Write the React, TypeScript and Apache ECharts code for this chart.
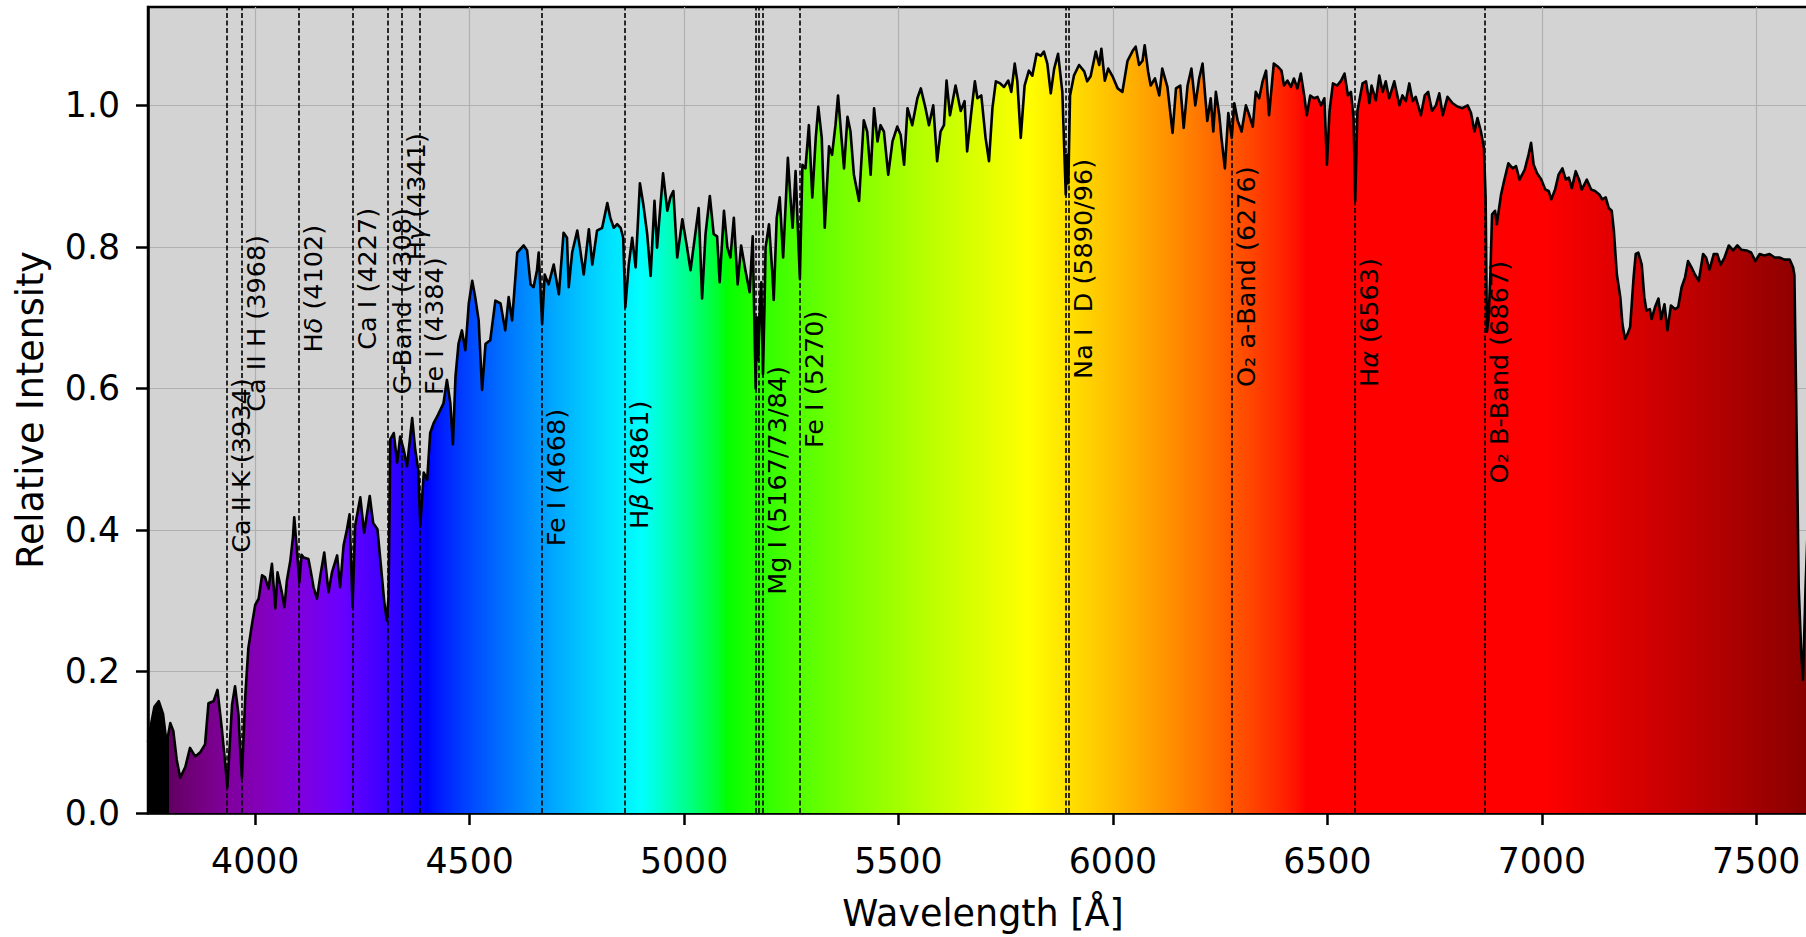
import React, { useEffect, useRef } from "react";
import * as echarts from "echarts";

const WAVELENGTH = [
  3750, 3757, 3765, 3775, 3785, 3792, 3797, 3802, 3809, 3817, 3825, 3837, 3848, 3855, 3860, 3872, 3883, 3891, 3903, 3912,
  3922, 3930, 3935, 3940, 3946, 3953, 3961, 3965, 3969, 3973, 3977, 3984, 3992, 4000, 4008, 4016, 4023, 4031, 4039, 4047,
  4052, 4062, 4068, 4074, 4082, 4088, 4091, 4097, 4103, 4108, 4113, 4124, 4130, 4136, 4144, 4152, 4161, 4171, 4179, 4191,
  4198, 4206, 4214, 4220, 4227, 4233, 4245, 4254, 4260, 4267, 4275, 4285, 4293, 4301, 4307, 4311, 4315, 4323, 4331, 4338,
  4346, 4354, 4366, 4373, 4380, 4385, 4393, 4401, 4408, 4416, 4424, 4432, 4439, 4447, 4455, 4461, 4467, 4474, 4482, 4490,
  4498, 4506, 4513, 4521, 4529, 4537, 4548, 4560, 4572, 4583, 4591, 4599, 4611, 4626, 4634, 4642, 4649, 4657, 4661, 4669,
  4675, 4684, 4696, 4708, 4719, 4727, 4731, 4739, 4751, 4758, 4766, 4778, 4786, 4797, 4809, 4821, 4828, 4836, 4844, 4852,
  4858, 4863, 4871, 4879, 4887, 4897, 4905, 4914, 4922, 4931, 4937, 4951, 4961, 4968, 4975, 4984, 4996, 5007, 5015, 5023,
  5034, 5042, 5050, 5060, 5069, 5077, 5083, 5093, 5101, 5108, 5116, 5125, 5133, 5143, 5153, 5160, 5167, 5170, 5173, 5177,
  5180, 5184, 5188, 5190, 5198, 5206, 5209, 5216, 5223, 5231, 5242, 5248, 5253, 5260, 5264, 5270, 5276, 5283, 5291, 5299,
  5307, 5313, 5321, 5328, 5338, 5345, 5353, 5359, 5367, 5373, 5381, 5388, 5396, 5408, 5419, 5427, 5435, 5443, 5451, 5458,
  5466, 5476, 5486, 5497, 5505, 5513, 5521, 5532, 5544, 5552, 5563, 5571, 5581, 5590, 5598, 5606, 5612, 5620, 5633, 5645,
  5654, 5660, 5670, 5678, 5684, 5693, 5703, 5711, 5719, 5727, 5737, 5746, 5756, 5763, 5771, 5777, 5785, 5794, 5804, 5812,
  5822, 5832, 5839, 5847, 5855, 5863, 5872, 5882, 5890, 5893, 5896, 5900, 5909, 5921, 5933, 5940, 5948, 5960, 5968, 5973,
  5981, 5989, 5999, 6011, 6022, 6034, 6046, 6053, 6061, 6069, 6074, 6082, 6088, 6098, 6108, 6115, 6127, 6139, 6147, 6157,
  6165, 6174, 6183, 6192, 6201, 6209, 6215, 6220, 6228, 6234, 6240, 6248, 6253, 6261, 6269, 6277, 6283, 6291, 6300, 6310,
  6318, 6326, 6333, 6341, 6349, 6357, 6364, 6375, 6384, 6393, 6399, 6407, 6415, 6422, 6430, 6438, 6446, 6452, 6460, 6469,
  6477, 6485, 6493, 6499, 6505, 6513, 6523, 6532, 6540, 6548, 6555, 6561, 6565, 6570, 6582, 6590, 6598, 6603, 6613, 6621,
  6629, 6636, 6644, 6656, 6668, 6675, 6683, 6691, 6699, 6706, 6718, 6727, 6735, 6744, 6753, 6761, 6769, 6780, 6792, 6804,
  6815, 6827, 6835, 6843, 6850, 6858, 6865, 6869, 6872, 6876, 6880, 6884, 6891, 6895, 6905, 6912, 6922, 6932, 6940, 6948,
  6960, 6969, 6975, 6981, 6989, 6999, 7008, 7016, 7022, 7031, 7039, 7048, 7056, 7063, 7070, 7079, 7087, 7093, 7105, 7115,
  7124, 7134, 7141, 7149, 7156, 7163, 7168, 7175, 7183, 7188, 7194, 7200, 7206, 7214, 7219, 7225, 7233, 7239, 7244, 7252,
  7256, 7264, 7272, 7278, 7286, 7293, 7301, 7311, 7318, 7326, 7334, 7341, 7349, 7357, 7366, 7376, 7383, 7391, 7401, 7409,
  7417, 7426, 7436, 7446, 7456, 7465, 7477, 7488, 7498, 7508, 7519, 7531, 7543, 7554, 7566, 7578, 7586, 7589, 7595, 7599,
  7605, 7609, 7615, 7619,
];

const INTENSITY = [
  0.100, 0.125, 0.150, 0.158, 0.140, 0.105, 0.110, 0.127, 0.116, 0.075, 0.050, 0.065, 0.092, 0.085, 0.080, 0.086, 0.097, 0.155, 0.158, 0.174,
  0.120, 0.070, 0.036, 0.090, 0.153, 0.179, 0.139, 0.090, 0.050, 0.110, 0.167, 0.233, 0.265, 0.294, 0.303, 0.336, 0.333, 0.317, 0.352, 0.289,
  0.340, 0.312, 0.291, 0.329, 0.357, 0.390, 0.418, 0.373, 0.326, 0.365, 0.361, 0.359, 0.340, 0.319, 0.303, 0.336, 0.368, 0.312, 0.340, 0.364,
  0.319, 0.378, 0.401, 0.422, 0.291, 0.406, 0.446, 0.396, 0.420, 0.448, 0.410, 0.401, 0.350, 0.298, 0.272, 0.308, 0.528, 0.537, 0.495, 0.532,
  0.514, 0.490, 0.558, 0.514, 0.486, 0.406, 0.481, 0.471, 0.537, 0.551, 0.560, 0.570, 0.579, 0.612, 0.579, 0.521, 0.617, 0.663, 0.682, 0.654,
  0.720, 0.752, 0.729, 0.696, 0.598, 0.663, 0.668, 0.724, 0.720, 0.682, 0.729, 0.696, 0.792, 0.802, 0.795, 0.747, 0.743, 0.767, 0.792, 0.691,
  0.761, 0.747, 0.775, 0.733, 0.820, 0.813, 0.743, 0.792, 0.823, 0.795, 0.761, 0.825, 0.775, 0.823, 0.827, 0.862, 0.841, 0.827, 0.832, 0.827,
  0.813, 0.715, 0.775, 0.813, 0.771, 0.890, 0.860, 0.818, 0.759, 0.865, 0.799, 0.904, 0.851, 0.870, 0.879, 0.785, 0.839, 0.799, 0.767, 0.804,
  0.855, 0.727, 0.818, 0.872, 0.818, 0.815, 0.750, 0.851, 0.799, 0.785, 0.841, 0.747, 0.802, 0.767, 0.736, 0.815, 0.600, 0.700, 0.640, 0.720,
  0.750, 0.620, 0.730, 0.799, 0.832, 0.761, 0.725, 0.841, 0.870, 0.785, 0.926, 0.870, 0.827, 0.907, 0.846, 0.755, 0.916, 0.911, 0.972, 0.870,
  0.954, 0.998, 0.954, 0.827, 0.942, 0.930, 0.972, 1.014, 0.954, 0.911, 0.984, 0.963, 0.902, 0.865, 0.979, 0.963, 0.902, 0.996, 0.949, 0.972,
  0.963, 0.902, 0.949, 0.970, 0.958, 0.916, 0.996, 0.972, 1.010, 1.024, 0.996, 0.972, 1.000, 0.921, 0.963, 0.972, 1.035, 0.986, 1.028, 0.992,
  1.006, 0.935, 0.992, 1.034, 1.010, 1.014, 0.954, 0.921, 0.996, 1.034, 1.031, 1.026, 1.035, 1.019, 1.059, 1.034, 0.954, 1.028, 1.049, 1.042,
  1.073, 1.070, 1.076, 1.059, 1.017, 1.052, 1.073, 1.019, 0.874, 0.930, 0.890, 1.014, 1.042, 1.057, 1.048, 1.034, 1.041, 1.076, 1.057, 1.080,
  1.035, 1.052, 1.041, 1.024, 1.019, 1.063, 1.077, 1.083, 1.057, 1.063, 1.085, 1.048, 1.028, 1.038, 1.014, 1.052, 1.026, 0.961, 1.024, 1.028,
  0.968, 1.028, 1.052, 1.000, 1.038, 1.059, 1.014, 0.978, 1.010, 0.963, 1.019, 0.986, 0.954, 0.911, 0.989, 0.954, 1.003, 0.978, 0.963, 1.000,
  0.986, 0.970, 1.019, 1.010, 1.034, 1.049, 0.986, 1.059, 1.055, 1.049, 1.028, 1.035, 1.026, 1.038, 1.024, 1.045, 1.014, 0.986, 1.014, 1.010,
  1.012, 1.000, 1.010, 0.916, 0.992, 1.031, 1.028, 1.035, 1.045, 1.014, 1.019, 0.982, 0.865, 0.992, 1.031, 1.034, 1.003, 1.028, 1.007, 1.042,
  1.019, 1.034, 1.010, 1.034, 1.000, 1.014, 1.006, 1.031, 1.006, 1.012, 0.986, 1.014, 1.019, 0.992, 1.000, 1.017, 0.986, 1.012, 1.003, 0.998,
  0.996, 1.000, 0.989, 0.963, 0.982, 0.963, 0.940, 0.870, 0.680, 0.700, 0.760, 0.846, 0.851, 0.832, 0.874, 0.893, 0.918, 0.911, 0.914, 0.895,
  0.909, 0.930, 0.947, 0.916, 0.904, 0.895, 0.881, 0.879, 0.867, 0.881, 0.902, 0.911, 0.895, 0.898, 0.883, 0.907, 0.895, 0.881, 0.895, 0.881,
  0.879, 0.874, 0.867, 0.870, 0.855, 0.851, 0.823, 0.761, 0.729, 0.691, 0.670, 0.677, 0.687, 0.757, 0.790, 0.792, 0.775, 0.729, 0.710, 0.712,
  0.698, 0.715, 0.727, 0.698, 0.719, 0.682, 0.717, 0.712, 0.715, 0.743, 0.757, 0.780, 0.771, 0.761, 0.752, 0.790, 0.785, 0.768, 0.790, 0.790,
  0.775, 0.785, 0.802, 0.795, 0.802, 0.796, 0.795, 0.792, 0.780, 0.790, 0.788, 0.790, 0.785, 0.785, 0.782, 0.782, 0.771, 0.760, 0.504, 0.319,
  0.225, 0.188, 0.319, 0.386,
];

// Dashed reference lines (Å)
const LINE_POSITIONS = [3934, 3968, 4102, 4227, 4308, 4341, 4384, 4668, 4861, 5167, 5173, 5184, 5270, 5890, 5896, 6276, 6563, 6867];

// Line labels: text, anchor wavelength (last line of the group), label centre height
const LABEL_TEXTS = [
  "Ca II K (3934)",
  "Ca II H (3968)",
  "H{g|δ} (4102)",
  "Ca I (4227)",
  "G-Band (4308)",
  "H{g|γ} (4341)",
  "Fe I (4384)",
  "Fe I (4668)",
  "H{g|β} (4861)",
  "Mg I (5167/73/84)",
  "Fe I (5270)",
  "Na I  D (5890/96)",
  "O₂ a-Band (6276)",
  "H{g|α} (6563)",
  "O₂ B-Band (6867)",
];
const LABEL_ANCHORS = [3934, 3968, 4102, 4227, 4308, 4341, 4384, 4668, 4861, 5184, 5270, 5896, 6276, 6563, 6867];
const LABEL_Y = [0.491, 0.692, 0.741, 0.755, 0.723, 0.871, 0.688, 0.474, 0.492, 0.470, 0.613, 0.769, 0.758, 0.693, 0.623];

const X_TICKS = [4000, 4500, 5000, 5500, 6000, 6500, 7000, 7500];
const Y_TICKS = [0, 0.2, 0.4, 0.6, 0.8, 1.0];

const X_MIN = 3750;
const X_MAX = 7644;
const Y_MAX = 1.139;

function wavelengthToRgb(angstrom: number): string {
  const nm = angstrom / 10;
  let r = 0, g = 0, b = 0;
  if (nm >= 380 && nm < 440) { r = -(nm - 440) / 60; b = 1; }
  else if (nm >= 440 && nm < 490) { g = (nm - 440) / 50; b = 1; }
  else if (nm >= 490 && nm < 510) { g = 1; b = -(nm - 510) / 20; }
  else if (nm >= 510 && nm < 580) { r = (nm - 510) / 70; g = 1; }
  else if (nm >= 580 && nm < 645) { r = 1; g = -(nm - 645) / 65; }
  else if (nm >= 645 && nm <= 780) { r = 1; }
  let f = 0;
  if (nm >= 380 && nm < 420) f = 0.3 + (0.7 * (nm - 380)) / 40;
  else if (nm >= 420 && nm < 700) f = 1;
  else if (nm >= 700 && nm <= 780) f = 0.3 + (0.7 * (780 - nm)) / 80;
  const gamma = 0.8;
  const c = (v: number) => Math.round(255 * Math.pow(Math.max(0, v * f), gamma));
  return `rgb(${c(r)},${c(g)},${c(b)})`;
}

const FONT = "DejaVu Sans";

export default function App() {
  const ref = useRef<HTMLDivElement>(null);
  useEffect(() => {
    if (!ref.current) return;
    const chart = echarts.init(ref.current, null, { renderer: "svg" });
    const lo = WAVELENGTH[0];
    const hi = WAVELENGTH[WAVELENGTH.length - 1];
    const off = (w: number) => Math.min(1, Math.max(0, (w - lo) / (hi - lo)));
    const stops: { offset: number; color: string }[] = [];
    stops.push({ offset: 0, color: "rgb(0,0,0)" });
    stops.push({ offset: off(3799.9), color: "rgb(0,0,0)" });
    for (let w = 3800; w <= hi; w += 10) {
      stops.push({ offset: off(w), color: wavelengthToRgb(w) });
    }
    stops.push({ offset: 1, color: wavelengthToRgb(hi) });
    const gradient = new echarts.graphic.LinearGradient(0, 0, 1, 0, stops);

    const data = WAVELENGTH.map((w, i) => [w, INTENSITY[i]]);
    const labelData = LABEL_ANCHORS.map((w, i) => [w, LABEL_Y[i], i]);

    const option: any = {
      animation: false,
      backgroundColor: "#ffffff",
      grid: {
        left: 148,
        right: 12,
        top: 7,
        bottom: 120,
        show: true,
        backgroundColor: "#d3d3d3",
        borderColor: "#000",
        borderWidth: 2.5,
        containLabel: false,
      },
      xAxis: {
        type: "value",
        min: X_MIN,
        max: X_MAX,
        splitNumber: 8,
        minInterval: 500,
        maxInterval: 500,
        axisLine: { show: true, onZero: false, lineStyle: { color: "#000", width: 2.5 } },
        axisTick: { show: true, length: 12, lineStyle: { color: "#000", width: 2.5 }, customValues: X_TICKS },
        axisLabel: {
          customValues: X_TICKS,
          fontSize: 34.7,
          fontFamily: FONT,
          color: "#000",
          margin: 30,
          formatter: (v: number) => String(v),
        },
        splitLine: { show: true, lineStyle: { color: "#b0b0b0", width: 1.2 } },
        name: "Wavelength [Å]",
        nameLocation: "middle",
        nameGap: 82,
        nameTextStyle: { fontSize: 36.5, fontFamily: FONT, color: "#000" },
      },
      yAxis: {
        type: "value",
        min: 0,
        max: Y_MAX,
        interval: 0.2,
        axisLine: { show: true, lineStyle: { color: "#000", width: 2.5 } },
        axisTick: { show: true, length: 12, lineStyle: { color: "#000", width: 2.5 }, customValues: Y_TICKS },
        axisLabel: {
          customValues: Y_TICKS,
          fontSize: 34.7,
          fontFamily: FONT,
          color: "#000",
          margin: 28,
          formatter: (v: number) => v.toFixed(1),
        },
        splitLine: { show: true, lineStyle: { color: "#b0b0b0", width: 1.2 } },
        name: "Relative Intensity",
        nameLocation: "middle",
        nameGap: 99,
        nameTextStyle: { fontSize: 36.5, fontFamily: FONT, color: "#000" },
      },
      series: [
        {
          type: "line",
          data,
          symbol: "none",
          showSymbol: false,
          smooth: false,
          z: 2,
          lineStyle: { color: "#000", width: 2.6, join: "round" },
          areaStyle: { color: gradient, opacity: 1, origin: "start" },
          markLine: {
            silent: true,
            symbol: ["none", "none"],
            label: { show: false },
            lineStyle: { color: "#000", type: [5, 2.5], width: 1.6, opacity: 1 },
            data: LINE_POSITIONS.map((x) => ({ xAxis: x })),
          },
        },
        {
          type: "custom",
          z: 5,
          clip: false,
          silent: true,
          encode: { x: 0, y: 1 },
          data: labelData,
          renderItem: (_params: any, api: any) => {
            const w = api.value(0);
            const y = api.value(1);
            const idx = api.value(2);
            const p = api.coord([w, y]);
            return {
              type: "text",
              x: p[0] + 14.5,
              y: p[1],
              rotation: Math.PI / 2,
              style: {
                text: LABEL_TEXTS[idx],
                fill: "#000",
                fontSize: 25.5,
                fontFamily: FONT,
                align: "center",
                verticalAlign: "middle",
                rich: {
                  g: { fontSize: 25.5, fontFamily: FONT, fontStyle: "italic", fill: "#000" },
                },
              },
            };
          },
        },
      ],
    };
    chart.setOption(option);
    return () => chart.dispose();
  }, []);
  return (
    <div style={{ position: "absolute", left: 0, top: 0, width: 1806, height: 937, overflow: "hidden" }}>
      <div ref={ref} style={{ width: 1830, height: 937 }} />
    </div>
  );
}
